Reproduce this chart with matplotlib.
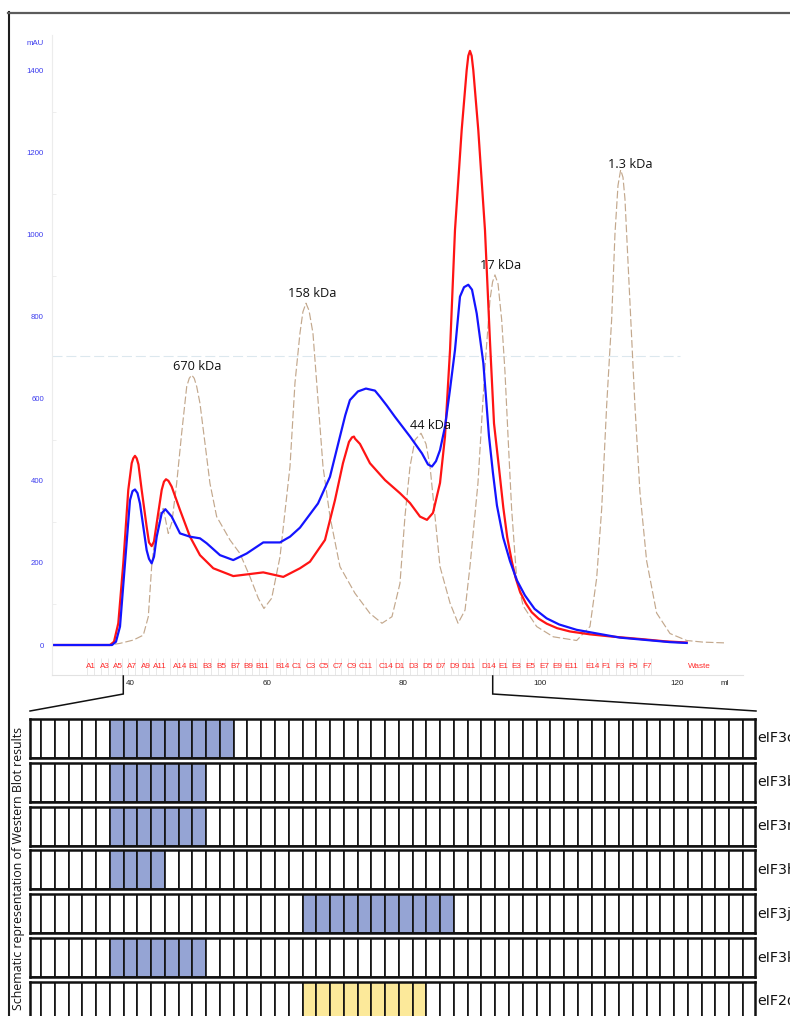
import numpy as np
import matplotlib
matplotlib.use("Agg")
import matplotlib.pyplot as plt
from matplotlib.lines import Line2D

# ---------------- data ----------------
red_ml = [28.6, 37.07, 37.66, 38.29, 39.02, 39.75, 40.25, 40.48, 40.73, 40.98, 41.24, 41.71,
          42.44, 42.78, 43.17, 43.51, 43.91, 44.64, 44.97, 45.27, 45.63, 46.10, 47.32, 48.78,
          50.24, 52.19, 55.11, 57.56, 59.50, 62.43, 64.87, 66.33, 68.53, 69.99, 71.16, 72.04,
          72.48, 72.77, 72.92, 73.65, 75.11, 77.31, 79.50, 80.97, 82.43, 83.45, 84.33, 85.36,
          86.09, 86.83, 87.55, 88.53, 89.26, 89.50, 89.74, 89.99, 90.23, 90.96, 91.94, 92.67,
          93.26, 94.00, 94.62, 95.20, 95.85, 96.40, 97.06, 97.90, 98.77, 99.80, 100.97, 102.50,
          104.37, 107.30, 110.23, 115.10, 118.27, 121.45]
red_mau = [0, 0, 8, 53, 199, 378, 443, 455, 461, 455, 440, 378,
           288, 250, 241, 252, 297, 378, 398, 404, 400, 386, 329, 264,
           219, 187, 168, 173, 177, 166, 187, 203, 256, 353, 443, 495,
           506, 508, 503, 490, 443, 402, 370, 346, 313, 305, 322, 395,
           508, 720, 1011, 1255, 1401, 1436, 1448, 1436, 1401, 1255, 1011, 740,
           540, 430, 335, 262, 205, 165, 130, 102, 80, 64, 52, 41,
           33, 26, 21, 14, 9, 6]

blue_ml = [28.6, 37.37, 37.95, 38.54, 39.27, 40.00, 40.37, 40.73, 41.10, 41.46, 42.44,
           42.78, 43.17, 43.51, 43.91, 44.64, 45.17, 46.10, 47.32, 48.78, 50.24, 51.22,
           53.17, 55.11, 57.07, 59.50, 61.95, 63.41, 64.87, 67.51, 69.26, 70.72, 71.50,
           72.18, 73.35, 74.52, 75.84, 76.58, 77.60, 78.77, 80.97, 82.72, 83.60, 84.18,
           84.77, 85.36, 86.09, 86.80, 87.55, 88.28, 88.87, 89.50, 90.04, 90.73, 91.70,
           92.52, 93.10, 93.69, 94.60, 95.59, 96.60, 97.78, 99.20, 100.96, 102.80, 105.35,
           111.69, 119.01, 121.45]
blue_mau = [0, 0, 8, 45, 199, 353, 375, 379, 370, 345, 231,
            210, 199, 215, 264, 321, 331, 313, 272, 264, 260, 248,
            219, 207, 223, 250, 250, 264, 286, 345, 410, 508, 560,
            597, 618, 625, 620, 605, 583, 556, 508, 467, 440, 435,
            448, 475, 532, 620, 719, 849, 872, 878, 866, 808, 687,
            510, 420, 340, 262, 205, 158, 121, 88, 65, 50, 37,
            18, 7, 5]

std_ml = [28.6, 37.07, 38.54, 40.48, 41.95, 42.68, 43.17, 43.66, 44.39, 44.87,
          45.60, 46.14, 46.83, 47.56, 48.30, 48.67, 49.03, 49.40, 49.76, 50.24,
          50.97, 51.70, 52.68, 54.63, 56.09, 57.56, 58.77, 59.60, 60.73, 61.95,
          63.41, 64.14, 64.87, 65.30, 65.75, 66.20, 66.77, 67.51, 68.24, 69.26,
          70.72, 72.92, 75.11, 76.87, 78.33, 79.50, 80.23, 80.97, 81.70, 82.58,
          83.31, 83.90, 84.63, 85.36, 86.83, 88.00, 89.02, 89.74, 90.91, 91.94,
          92.67, 93.05, 93.40, 93.85, 94.38, 94.86, 95.34, 95.84, 96.57, 97.54,
          99.50, 101.93, 105.35, 107.30, 108.28, 109.01, 109.74, 110.47, 110.96, 111.40,
          111.79, 112.13, 112.42, 113.15, 113.88, 114.61, 115.59, 117.05, 119.01, 121.45,
          123.88, 127.30]
std_mau = [0, 0, 4, 12, 24, 69, 191, 264, 321, 333,
           272, 300, 394, 516, 630, 650, 658, 650, 630, 589,
           492, 394, 313, 256, 223, 166, 114, 89, 114, 215,
           435, 639, 760, 812, 833, 815, 760, 597, 435, 313,
           191, 126, 77, 53, 69, 150, 313, 435, 500, 516,
           490, 435, 313, 191, 102, 53, 85, 191, 394, 678,
           841, 885, 902, 880, 793, 667, 499, 331, 163, 95,
           45, 20, 11, 45, 163, 331, 583, 793, 1003, 1120,
           1158, 1140, 1087, 835, 583, 373, 205, 78, 28, 11,
           7, 5]

std_labels = ["670 kDa", "158 kDa", "44 kDa", "17 kDa", "1.3 kDa"]
std_peak_ml = [49.03, 65.75, 82.58, 93.40, 111.79]
std_peak_mau = [658, 833, 516, 902, 1158]

y_ticks = [0, 200, 400, 600, 800, 1000, 1200, 1400]
y_minor = [100, 300, 500, 900, 1100, 1300]
x_ticks = [40, 60, 80, 100, 120]
ref_level = 705

fraction_labels = ["A1", "A3", "A5", "A7", "A9", "A11", "A14",
                   "B1", "B3", "B5", "B7", "B9", "B11", "B14",
                   "C1", "C3", "C5", "C7", "C9", "C11", "C14",
                   "D1", "D3", "D5", "D7", "D9", "D11", "D14",
                   "E1", "E3", "E5", "E7", "E9", "E11", "E14",
                   "F1", "F3", "F5", "F7"]
fraction_start_ml = 33.75
fraction_width_ml = 1.005
fraction_count = 82
waste_ml = 123.3

bracket_ml = [39.02, 93.07]

wb_proteins = ["eIF3c", "eIF3b", "eIF3m", "eIF3h", "eIF3j", "eIF3k", "eIF2α"]
wb_first = [6, 6, 6, 6, 20, 6, 20]
wb_last = [14, 12, 12, 9, 30, 12, 28]
wb_group = ["eIF3", "eIF3", "eIF3", "eIF3", "eIF3", "eIF3", "eIF2"]
wb_n_cells = 53

# ---------------- figure ----------------
W, H = 790, 1016
fig = plt.figure(figsize=(W / 100, H / 100), dpi=100)
fig.patch.set_facecolor("white")


def rect(l, t, r, b):
    return [l / W, 1 - b / H, (r - l) / W, (b - t) / H]


AXF = "Liberation Sans"
ANNF = "Open Sans"

ax = fig.add_axes(rect(52, 35, 743, 675))
ax.set_xlim(28.59, 129.69)
ax.set_ylim(-73.1, 1486.7)
for s in ["top", "right"]:
    ax.spines[s].set_visible(False)
ax.spines["left"].set_color("#ececec")
ax.spines["left"].set_linewidth(0.8)
ax.spines["bottom"].set_color("#e2e2e2")
ax.spines["bottom"].set_linewidth(0.8)

ax.set_yticks(y_ticks)
ax.set_yticklabels([str(v) for v in y_ticks], color="#3b3bee", fontsize=5.6, family=AXF)
ax.set_yticks(y_minor, minor=True)
ax.tick_params(axis="y", which="major", length=0, pad=5.8)
ax.tick_params(axis="y", which="minor", direction="in", length=3, color="#eeeeee", width=0.7)
ax.set_xticks(x_ticks)
ax.set_xticklabels([str(v) for v in x_ticks], color="#222222", fontsize=5.8, family=AXF)
ax.tick_params(axis="x", length=0, pad=3.4)

ax.hlines(ref_level, 28.6, 120.5, colors="#dce8ee", linestyles=(0, (9, 3.5)), lw=0.8)

ax.plot(std_ml, std_mau, color="#c3a88d", lw=0.85, dashes=(6.5, 2.4), dash_capstyle="butt",
        solid_joinstyle="round", dash_joinstyle="round")
ax.plot(red_ml, red_mau, color="#ff1414", lw=1.6, solid_joinstyle="round")
ax.plot(blue_ml, blue_mau, color="#1414ff", lw=1.6, solid_joinstyle="round")

label_offsets_px = [(5, 9), (6, 10), (9, 8), (6, 9), (10, 5)]
for lab, pm, pa, (dx, dy) in zip(std_labels, std_peak_ml, std_peak_mau, label_offsets_px):
    ax.annotate(lab, xy=(pm, pa), xytext=(dx * 0.72, dy * 0.72), textcoords="offset points",
                ha="center", va="center", fontsize=9.2, family=ANNF, color="#111111")

# fraction markers
xt = ax.get_xaxis_transform()
bounds = [fraction_start_ml + k * fraction_width_ml for k in range(fraction_count + 1)]
ax.vlines(bounds, 0, 0.027, transform=xt, colors="#e4e4e4", lw=0.6)
letters = "ABCDEF"
for lab in fraction_labels:
    idx = letters.index(lab[0]) * 15 + int(lab[1:]) - 1
    xc = fraction_start_ml + (idx + 0.5) * fraction_width_ml
    ax.text(xc, 0.0125, lab, transform=xt, ha="center", va="center",
            fontsize=5.9, color="#ff2a2a", family=AXF)
ax.text(waste_ml, 0.0125, "Waste", transform=xt, ha="center", va="center",
        fontsize=5.9, color="#ff2a2a", family=AXF)

fig.text(44 / W, 1 - 43.5 / H, "mAU", ha="right", va="center", fontsize=5.6,
         color="#3b3bee", family=AXF)
fig.text(725 / W, 1 - 683.5 / H, "ml", ha="center", va="center", fontsize=5.8,
         color="#222222", family=AXF)

# zoom bracket lines from chromatogram to western blot grid
for ml_b, corner in zip(bracket_ml, [30, 756]):
    xd = ax.transData.transform((ml_b, 0))[0]
    xs = [xd / W, xd / W, corner / W]
    ys = [1 - 676 / H, 1 - 694 / H, 1 - 711 / H]
    fig.add_artist(Line2D(xs, ys, color="#111111", lw=1.1, solid_joinstyle="miter"))

# western blot schematic
colors_map = {"eIF3": "#95a4d4", "eIF2": "#fce99a"}
for r, (prot, a, b, g) in enumerate(zip(wb_proteins, wb_first, wb_last, wb_group)):
    top = 719 + r * 43.8
    axr = fig.add_axes(rect(30, top, 755, top + 39))
    cols = ["white"] * wb_n_cells
    for k in range(a, b + 1):
        cols[k] = colors_map[g]
    axr.bar(np.arange(wb_n_cells), 1, width=1, align="edge", color=cols,
            edgecolor="#111111", linewidth=1.2)
    axr.set_xlim(0.2, 52.87)
    axr.set_ylim(0, 1)
    axr.set_xticks([])
    axr.set_yticks([])
    for s in axr.spines.values():
        s.set_linewidth(1.8)
        s.set_color("#111111")
    axr.text(1 + 2 / 725, 0.5, prot, transform=axr.transAxes, ha="left", va="center",
             fontsize=10.3, family="DejaVu Sans", color="#111111", clip_on=False)

fig.text(18.5 / W, 1 - 869 / H, "Schematic representation of Western Blot results",
         rotation=90, ha="center", va="center", fontsize=8.9, family=ANNF, color="#111111")

# outer frame
fig.add_artist(Line2D([8.5 / W, 8.5 / W], [1 - 12 / H, 0], color="#1e1e1e", lw=1.5))
fig.add_artist(Line2D([7.8 / W, 1.0], [1 - 12.8 / H, 1 - 12.8 / H], color="#5c5c5c", lw=1.6))

fig.savefig("out.png", dpi=100, facecolor="white")
